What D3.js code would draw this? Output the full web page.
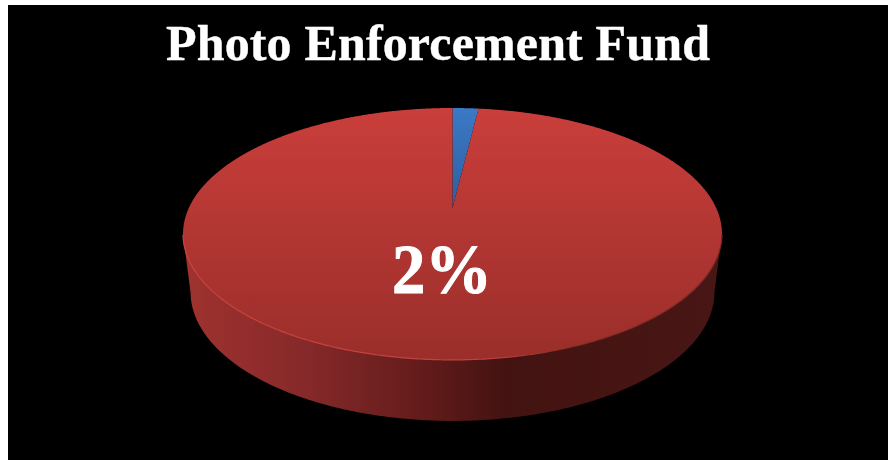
<!DOCTYPE html>
<html><head><meta charset="utf-8">
<script src="https://cdn.jsdelivr.net/npm/d3@7/dist/d3.min.js"></script>
<style>html,body{margin:0;padding:0;background:#fff}svg{display:block}</style>
</head><body><svg id="c" width="888" height="460"></svg>
<script>
const title = "Photo Enforcement Fund";
const categories = ["Photo Enforcement Fund", "Other"];
const shares = [1.9, 98.1];
const topStops = [["0%", "#ca3e3b"], ["100%", "#9a2e2a"]];
const blueStops = [["0%", "#3b79c6"], ["100%", "#2d5f9f"]];
const sideStops = [["0%", "#9e322e"], ["22%", "#86292a"], ["45%", "#611b1a"], ["60%", "#431311"], ["100%", "#471615"]];
const rimStops = [["0%", "#c8443f"], ["55%", "#c4423c"], ["72%", "#8a2c28"], ["100%", "#7a2522"]];

const svg = d3.select("#c");
const defs = svg.append("defs");
function grad(id, stops, x1, y1, x2, y2) {
  const g = defs.append("linearGradient").attr("id", id).attr("gradientUnits", "userSpaceOnUse")
    .attr("x1", x1).attr("y1", y1).attr("x2", x2).attr("y2", y2);
  stops.forEach(s => g.append("stop").attr("offset", s[0]).attr("stop-color", s[1]));
}
const cx = 452.5, apexY = 208, p = 0.206, rxP = 263.7, ryP = 120.6, ellCy = 234, depth = 58, sx = 0.972, sy = 1.024;
grad("topG", topStops, 0, 108, 0, 360);
grad("blueG", blueStops, 0, 108, 0, 208);
grad("sideG", sideStops, 190, 0, 716, 0);
grad("rimG", rimStops, 183, 0, 722, 0);

svg.append("rect").attr("width", 888).attr("height", 460).attr("fill", "#fff");
svg.append("rect").attr("x", 8).attr("y", 5).attr("width", 880).attr("height", 455).attr("fill", "#000");

const rim = a => {
  const u = Math.sin(a), v = Math.cos(a), w = 1 + p * v;
  return [cx + rxP * u / w, apexY - ryP * v / w];
};
const low = a => {
  const [x, y] = rim(a);
  return [cx + (x - cx) * sx, ellCy + (y - ellCy) * sy + depth];
};
const line = d3.line();
const nearA = d3.range(Math.acos(-p), 2 * Math.PI - Math.acos(-p), 0.01);

// side wall
svg.append("path")
  .attr("d", line(nearA.map(rim).concat(nearA.slice().reverse().map(low))) + "Z")
  .attr("fill", "url(#sideG)");

// top slices
const pie = d3.pie().sort(null).value(d => d);
const arcs = pie(shares);
svg.selectAll("path.slice").data(arcs).join("path").attr("class", "slice")
  .attr("d", d => {
    const pts = d3.range(d.startAngle, d.endAngle, 0.005).concat([d.endAngle]).map(rim);
    return line([[cx, apexY]].concat(pts)) + "Z";
  })
  .attr("fill", (d, i) => i === 0 ? "url(#blueG)" : "url(#topG)");

// rim highlight
svg.append("path").attr("d", line(nearA.map(rim))).attr("fill", "none")
  .attr("stroke", "url(#rimG)").attr("stroke-width", 1.2);

svg.append("text").attr("x", 166).attr("y", 60)
  .attr("font-family", "'Liberation Serif'").attr("font-weight", "bold").attr("font-size", 50)
  .attr("fill", "#fff").attr("stroke", "#fff").attr("stroke-width", 0.4)
  .attr("textLength", 544).attr("lengthAdjust", "spacing").text(title);
svg.append("text").attr("x", 392).attr("y", 292.5)
  .attr("font-family", "'Liberation Serif'").attr("font-weight", "bold").attr("font-size", 70)
  .attr("fill", "#fff").attr("stroke", "#fff").attr("stroke-width", 1)
  .attr("textLength", 100).attr("lengthAdjust", "spacingAndGlyphs").text(d3.format(".0f")(shares[0]) + "%");
</script></body></html>
